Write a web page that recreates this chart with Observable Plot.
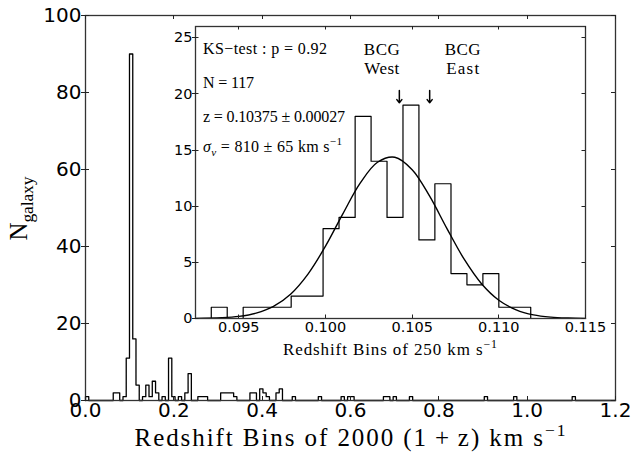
<!DOCTYPE html>
<html>
<head>
<meta charset="utf-8">
<script src="https://cdn.jsdelivr.net/npm/d3@7"></script>
<script src="https://cdn.jsdelivr.net/npm/@observablehq/plot@0.6"></script>
<style>
  html, body { margin: 0; padding: 0; background: #fff; }
  #chart { position: relative; width: 636px; height: 459px; overflow: hidden; }
  #chart svg { position: absolute; left: 0; top: 0; }
</style>
</head>
<body>
<div id="chart"></div>
<script>
const SERIF = "'Liberation Serif', 'DejaVu Serif', serif";
const SANS = "'DejaVu Sans', sans-serif";

// ---- Main histogram: bins of 2000 (1+z) km/s ----
const mainBinWidth = 0.00737;
const mainBinStart = [0.0000, 0.0628, 0.0701, 0.0849, 0.0922, 0.0996, 0.1070, 0.1143,
  0.1291, 0.1365, 0.1438, 0.1512, 0.1586, 0.1733,
  0.1880, 0.1954, 0.2102, 0.2249, 0.2323,
  0.2544, 0.2617, 0.2691,
  0.3060, 0.3133, 0.3207, 0.3281, 0.3354,
  0.3723, 0.3797, 0.3944, 0.4018, 0.4091, 0.4313, 0.4386,
  0.4681, 0.5271, 0.5787, 0.5934, 0.6008,
  0.6745, 0.6818, 0.6966, 0.7334, 0.9029, 0.9693, 1.1019];
const mainCounts = [1, 2, 2, 1, 11, 90, 16, 4,
  1, 4, 1, 5, 2, 1,
  11, 1, 1, 2, 7,
  1, 1, 1,
  2, 2, 2, 2, 1,
  2, 2, 3, 2, 1, 2, 3,
  1, 1, 1, 1, 1,
  1, 1, 1, 1, 1, 1, 1];
const mainXTicks = [0.0, 0.2, 0.4, 0.6, 0.8, 1.0, 1.2];
const mainYTicks = [0, 20, 40, 60, 80, 100];

// ---- Inset histogram: bins of 250 km/s ----
const insetBinEdges = [0.09341, 0.09433, 0.09525, 0.09618, 0.09710, 0.09802, 0.09894,
  0.09986, 0.10078, 0.10171, 0.10263, 0.10355, 0.10447, 0.10539, 0.10631, 0.10724,
  0.10816, 0.10908, 0.11000, 0.11092, 0.11184];
const insetCounts = [1, 0, 1, 1, 1, 2, 2, 8, 9, 18, 14, 9, 19, 7, 12, 4, 3, 4, 1, 1];
const insetXTicks = [0.095, 0.100, 0.105, 0.110, 0.115];
const insetYTicks = [0, 5, 10, 15, 20, 25];

// Gaussian fit curve
const fitZ = [0.0925, 0.094, 0.095, 0.096, 0.097, 0.098, 0.099, 0.100, 0.101, 0.102, 0.103,
  0.104, 0.105, 0.106, 0.107, 0.108, 0.109, 0.110, 0.111, 0.112, 0.113, 0.114, 0.115];
const fitN = [0.01, 0.07, 0.19, 0.48, 1.08, 2.19, 3.98, 6.44, 9.32, 12.05, 13.91,
  14.36, 13.25, 10.91, 8.03, 5.28, 3.10, 1.63, 0.77, 0.32, 0.12, 0.04, 0.01];

// BCG markers
const bcgZ = [0.10426, 0.10601];
const bcgNames = ["West", "East"];
const bcgLabelZ = [0.10328, 0.10794];
const arrowTop = 20.3, arrowTip = 19.2;

// Statistics text
const ksP = "0.92", nGal = "117", zMean = "0.10375", zErr = "0.00027", sigmaV = "810", sigmaErr = "65";

// ---- build step outlines ----
const mainPts = [{x: 0, y: 0}];
let prevEnd = null;
mainBinStart.forEach((s, i) => {
  if (prevEnd !== null && s - prevEnd > 0.0005) mainPts.push({x: prevEnd, y: 0});
  mainPts.push({x: s, y: mainCounts[i]});
  prevEnd = s + mainBinWidth;
});
mainPts.push({x: prevEnd, y: 0}, {x: 1.2, y: 0});

const insetPts = [{x: insetBinEdges[0], y: 0}];
insetCounts.forEach((c, i) => insetPts.push({x: insetBinEdges[i], y: c}));
insetPts.push({x: insetBinEdges[insetBinEdges.length - 1], y: 0});

const fitPts = fitZ.map((z, i) => ({x: z, y: fitN[i]}));

// ---- main plot ----
const mainPlot = Plot.plot({
  width: 636, height: 459,
  marginLeft: 85, marginRight: 21, marginTop: 15, marginBottom: 59,
  style: {fontFamily: SANS, fontSize: "20px", background: "white", overflow: "visible"},
  x: {domain: [0, 1.2]},
  y: {domain: [0, 100]},
  marks: [
    Plot.line(mainPts, {x: "x", y: "y", curve: "step-after", stroke: "black", strokeWidth: 1.3}),
    Plot.frame({stroke: "#333", strokeWidth: 1.3}),
    Plot.axisX({ticks: mainXTicks, tickFormat: d3.format(".1f"), tickSize: 0, tickPadding: 2, label: null}),
    Plot.axisY({ticks: mainYTicks, tickSize: 0, tickPadding: 4, label: null})
  ]
});

// ---- inset plot ----
const insetPlot = Plot.plot({
  width: 636, height: 459,
  marginLeft: 195, marginRight: 51, marginTop: 26, marginBottom: 141,
  style: {fontFamily: SANS, fontSize: "14.5px", background: "none", overflow: "visible"},
  x: {domain: [0.0925, 0.115]},
  y: {domain: [0, 26]},
  marks: [
    Plot.frame({fill: "white", stroke: null}),
    Plot.line(insetPts, {x: "x", y: "y", curve: "step-after", stroke: "black", strokeWidth: 1.2}),
    Plot.line(fitPts, {x: "x", y: "y", curve: "catmull-rom", stroke: "black", strokeWidth: 1.4}),
    Plot.arrow(bcgZ, {x1: d => d, x2: d => d, y1: () => arrowTop, y2: () => arrowTip,
      stroke: "black", strokeWidth: 1.5, headLength: 5, headAngle: 75}),
    Plot.frame({stroke: "#333", strokeWidth: 1.3}),
    Plot.axisX({ticks: insetXTicks, tickFormat: d3.format(".3f"), tickSize: 0, tickPadding: 3, label: null}),
    Plot.axisY({ticks: insetYTicks, tickSize: 0, tickPadding: 3, label: null})
  ]
});

const root = document.getElementById("chart");
root.appendChild(mainPlot);
root.appendChild(insetPlot);

// ---- tick marks (inward, plus outward on the left) ----
function drawTicks(svg, xt, yt, inLen, outLen) {
  const sx = svg.scale("x"), sy = svg.scale("y");
  const [xl, xr] = sx.range, [yb, yt0] = sy.range;
  const g = d3.select(svg).append("g").attr("stroke", "#222").attr("stroke-width", 1);
  xt.forEach(v => {
    const px = Math.round(sx.apply(v)) + 0.5;
    g.append("line").attr("x1", px).attr("x2", px).attr("y1", yb).attr("y2", yb - inLen);
    g.append("line").attr("x1", px).attr("x2", px).attr("y1", yt0).attr("y2", yt0 + inLen);
  });
  yt.forEach(v => {
    const py = Math.round(sy.apply(v)) + 0.5;
    g.append("line").attr("x1", xl - outLen).attr("x2", xl + inLen).attr("y1", py).attr("y2", py);
    g.append("line").attr("x1", xr).attr("x2", xr - inLen).attr("y1", py).attr("y2", py);
  });
}
drawTicks(mainPlot, mainXTicks, mainYTicks, 4, 4);
drawTicks(insetPlot, insetXTicks, insetYTicks, 3.5, 3);

// ---- rich text helper (sub/superscripts) ----
function richText(svg, {x, y, size, anchor = "start", rotate = 0, length = null, parts}) {
  const t = d3.select(svg).append("text")
    .attr("transform", `translate(${x},${y})${rotate ? ` rotate(${rotate})` : ""}`)
    .attr("font-family", SERIF).attr("font-size", size)
    .attr("text-anchor", anchor).attr("fill", "black")
    .style("white-space", "pre");
  let shift = 0;
  for (const p of parts) {
    const o = typeof p === "string" ? {t: p} : p;
    const target = o.sub ? size * 0.25 : o.sup ? -size * 0.42 : 0;
    const ts = t.append("tspan").text(o.t);
    if (target !== shift) ts.attr("dy", target - shift);
    shift = target;
    if (o.sub || o.sup) ts.attr("font-size", size * 0.7);
    if (o.it) ts.attr("font-style", "italic");
  }
  if (length) t.attr("textLength", length).attr("lengthAdjust", "spacing");
  return t;
}

// main axis labels
const mx = mainPlot.scale("x"), my = mainPlot.scale("y");
const mainCx = (mx.range[0] + mx.range[1]) / 2;
const mainCy = (my.range[0] + my.range[1]) / 2;
richText(mainPlot, {x: mainCx, y: 446, size: 25, anchor: "middle", length: 431,
  parts: ["Redshift Bins of 2000 (1\u2009+\u2009z) km s", {t: "\u22121", sup: true}]});
richText(mainPlot, {x: 27, y: mainCy + 1, size: 25, anchor: "middle", rotate: -90, length: 64,
  parts: ["N", {t: "galaxy", sub: true}]});

// inset labels
const ix = insetPlot.scale("x"), iy = insetPlot.scale("y");
const fl = ix.range[0], ft = iy.range[1];
richText(insetPlot, {x: (ix.range[0] + ix.range[1]) / 2, y: 355, size: 17, anchor: "middle", length: 214,
  parts: ["Redshift Bins of 250 km s", {t: "\u22121", sup: true}]});
richText(insetPlot, {x: fl + 8, y: ft + 28, size: 16, length: 124,
  parts: [`KS\u2212test : p = ${ksP}`]});
richText(insetPlot, {x: fl + 8, y: ft + 61.5, size: 16, length: 51,
  parts: [`N = ${nGal}`]});
richText(insetPlot, {x: fl + 8, y: ft + 95.5, size: 16, length: 142,
  parts: [`z = ${zMean} \u00b1 ${zErr}`]});
richText(insetPlot, {x: fl + 8, y: ft + 125.7, size: 16, length: 139,
  parts: [{t: "\u03c3", it: true}, {t: "v", sub: true, it: true}, ` = ${sigmaV} \u00b1 ${sigmaErr} km s`, {t: "\u22121", sup: true}]});
bcgNames.forEach((name, i) => {
  const cx = ix.apply(bcgLabelZ[i]);
  richText(insetPlot, {x: cx, y: ft + 29, size: 17, anchor: "middle", length: 36, parts: ["BCG"]});
  richText(insetPlot, {x: cx, y: ft + 48, size: 17, anchor: "middle", length: name === "West" ? 35 : 33, parts: [name]});
});
</script>
</body>
</html>
